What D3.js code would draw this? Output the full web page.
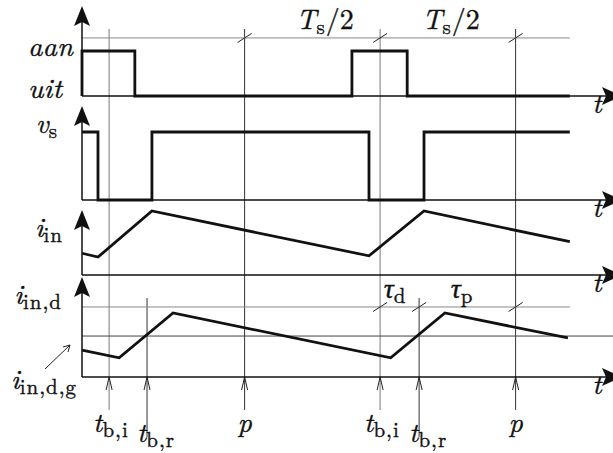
<!DOCTYPE html>
<html>
<head>
<meta charset="utf-8">
<script src="https://cdn.jsdelivr.net/npm/d3@7"></script>
<style>
  body { margin: 0; background: #fff; }
  svg { display: block; }
</style>
</head>
<body>
<svg id="chart" width="613" height="453"></svg>
<script>
// time in units of Ts, 0 = vertical axis
const gateT = [0, 0, 0.195, 0.996, 1.2, 1.8];
const gateV = [0, 1, 0, 1, 0, 0];
const vsT = [0, 0.059, 0.258, 1.059, 1.262, 1.8];
const vsV = [1, 0, 1, 0, 1, 1];
const iinT = [0, 0.059, 0.258, 1.059, 1.262, 1.8];
const iinV = [0.34, 0.28, 1.0, 0.3, 1.0, 0.52];
const iindT = [0, 0.137, 0.336, 1.139, 1.339, 1.793];
const iindV = [0.42, 0.30, 1.0, 0.30, 1.0, 0.61];
const tbi = [0.1, 1.1];
const tbr = [0.24, 1.244];
const pT = [0.6, 1.6];
const iindG = 0.64;   // level of i_in,d,g
const dimTop = 1.29;  // Ts/2 dimension line (panel 1 units)
const dimTau = 1.094; // tau dimension line (panel 4 units)

const FONT = "'Latin Modern Roman', 'Liberation Serif', serif";
const FS = 28, SUB = 21;

const svg = d3.select("#chart");
const x = d3.scaleLinear().domain([0, 1]).range([82, 353]);
const tEnd = 1.8;
const xArrow = 622;

// one y scale per panel
const y1 = d3.scaleLinear().domain([0, 1]).range([96, 51]);
const y2 = d3.scaleLinear().domain([0, 1]).range([200, 132]);
const y3 = d3.scaleLinear().domain([0, 1]).range([275, 211]);
const y4 = d3.scaleLinear().domain([0, 1]).range([377, 313]);

const guides = svg.append("g");
const marks = svg.append("g");
const labels = svg.append("g");

// vertical guide lines
tbi.forEach(function(t) {
  guides.append("line").attr("x1", x(t)).attr("x2", x(t)).attr("y1", 29).attr("y2", 410)
    .attr("stroke", "#777").attr("stroke-width", 1);
});
pT.forEach(function(t) {
  guides.append("line").attr("x1", x(t)).attr("x2", x(t)).attr("y1", 29).attr("y2", 410)
    .attr("stroke", "#333").attr("stroke-width", 1);
});
tbr.forEach(function(t) {
  guides.append("line").attr("x1", x(t)).attr("x2", x(t)).attr("y1", 298).attr("y2", 437)
    .attr("stroke", "#333").attr("stroke-width", 1);
});

// horizontal guide lines
guides.append("line").attr("x1", x(0)).attr("x2", x(tEnd)).attr("y1", y1(dimTop)).attr("y2", y1(dimTop))
  .attr("stroke", "#888").attr("stroke-width", 1);
guides.append("line").attr("x1", x(0)).attr("x2", x(tEnd)).attr("y1", y4(dimTau)).attr("y2", y4(dimTau))
  .attr("stroke", "#888").attr("stroke-width", 1);
guides.append("line").attr("x1", x(0)).attr("x2", 613).attr("y1", y4(iindG)).attr("y2", y4(iindG))
  .attr("stroke", "#444").attr("stroke-width", 1);

// slanted dimension ticks
function tick(px, py) {
  guides.append("line").attr("x1", px - 7).attr("y1", py + 4.5).attr("x2", px + 7).attr("y2", py - 4.5)
    .attr("stroke", "#222").attr("stroke-width", 1);
}
[pT[0], tbi[1], pT[1]].forEach(function(t) { tick(x(t), y1(dimTop)); });
[tbi[1], tbr[1], pT[1]].forEach(function(t) { tick(x(t), y4(dimTau)); });

// labels: main symbol italic, subscripts upright and smaller
function label(px, py, parts, anchor, width) {
  const t = labels.append("text").attr("x", px).attr("y", py)
    .attr("text-anchor", anchor || "start")
    .style("font-family", FONT).style("font-size", FS + "px")
    .attr("fill", "#111").attr("stroke", "#111").attr("stroke-width", 0.35);
  if (width) t.attr("textLength", width).attr("lengthAdjust", "spacingAndGlyphs");
  let shift = 0;
  parts.forEach(function(p) {
    const dy = p.sub ? 5 - shift : -shift;
    shift = p.sub ? 5 : 0;
    t.append("tspan").attr("dy", dy)
      .style("font-family", FONT)
      .style("font-size", (p.sub ? SUB : FS) + "px")
      .style("font-style", p.it ? "italic" : "normal")
      .style("letter-spacing", p.sub ? "1px" : "0px")
      .text(p.t);
  });
  return t;
}

// axes
function arrowUp(px, py) {
  marks.append("path")
    .attr("d", "M" + px + "," + py + " L" + (px + 8) + "," + (py + 20) + " L" + px + "," + (py + 16) +
      " L" + (px - 8) + "," + (py + 20) + "Z")
    .attr("fill", "#111");
}
function arrowRight(px, py) {
  marks.append("path")
    .attr("d", "M" + px + "," + py + " L" + (px - 20) + "," + (py - 9) + " L" + (px - 16) + "," + py +
      " L" + (px - 20) + "," + (py + 9) + "Z")
    .attr("fill", "#111");
}
const panels = [
  { y: y1, top: 6 },
  { y: y2, top: 106 },
  { y: y3, top: 210 },
  { y: y4, top: 277 }
];
panels.forEach(function(p) {
  marks.append("line").attr("x1", x(0)).attr("x2", x(0)).attr("y1", p.top + 10).attr("y2", p.y(0))
    .attr("stroke", "#111").attr("stroke-width", 1.5);
  marks.append("line").attr("x1", x(0)).attr("x2", xArrow - 10).attr("y1", p.y(0)).attr("y2", p.y(0))
    .attr("stroke", "#111").attr("stroke-width", 1.3);
  arrowUp(x(0), p.top);
  arrowRight(xArrow, p.y(0));
  label(597, p.y(0) + 17, [{ t: "t", it: true }], "middle");
});

// signals
function signal(ts, vs, ys, curve) {
  const pts = ts.map(function(t, i) { return [x(t), ys(vs[i])]; });
  marks.append("path")
    .attr("d", d3.line().curve(curve)(pts))
    .attr("fill", "none").attr("stroke", "#111").attr("stroke-width", 2.8)
    .attr("stroke-linejoin", "miter");
}
signal(gateT, gateV, y1, d3.curveStepAfter);
signal(vsT, vsV, y2, d3.curveStepAfter);
signal(iinT, iinV, y3, d3.curveLinear);
signal(iindT, iindV, y4, d3.curveLinear);

// small open arrows at the bottom axis
function chevronUp(px, py) {
  guides.append("path")
    .attr("d", "M" + (px - 3) + "," + (py + 13) + " L" + px + "," + py + " L" + (px + 3) + "," + (py + 13))
    .attr("fill", "none").attr("stroke", "#222").attr("stroke-width", 1);
}
tbi.concat(tbr, pT).forEach(function(t) { chevronUp(x(t), y4(0)); });

label(73, 56, [{ t: "aan", it: true }], "end", 45);
label(62, 98, [{ t: "uit", it: true }], "end", 34);
label(58, 133, [{ t: "v", it: true }, { t: "s", sub: true }], "end");
label(63, 237, [{ t: "i", it: true }, { t: "in", sub: true }], "end");
label(62, 304, [{ t: "i", it: true }, { t: "in,d", sub: true }], "end");
label(77, 389, [{ t: "i", it: true }, { t: "in,d,g", sub: true }], "end");

// pointer to i_in,d,g level
labels.append("line").attr("x1", 45).attr("y1", 369).attr("x2", 70).attr("y2", 345)
  .attr("stroke", "#222").attr("stroke-width", 1);
labels.append("path").attr("d", "M63,347 L70,345 L68,352")
  .attr("fill", "none").attr("stroke", "#222").attr("stroke-width", 1);

label(325, 29, [{ t: "T", it: true }, { t: "s", sub: true }, { t: "/2" }], "middle");
label(451, 29, [{ t: "T", it: true }, { t: "s", sub: true }, { t: "/2" }], "middle");
label(395, 298, [{ t: "τ", it: true }, { t: "d", sub: true }], "middle");
label(462, 298, [{ t: "τ", it: true }, { t: "p", sub: true }], "middle");

tbi.forEach(function(t) {
  label(x(t) - 16, 432, [{ t: "t", it: true }, { t: "b,i", sub: true }]);
});
tbr.forEach(function(t) {
  label(x(t) - 10, 442, [{ t: "t", it: true }, { t: "b,r", sub: true }]);
});
pT.forEach(function(t) {
  label(x(t), 432, [{ t: "p", it: true }], "middle");
});
</script>
</body>
</html>
